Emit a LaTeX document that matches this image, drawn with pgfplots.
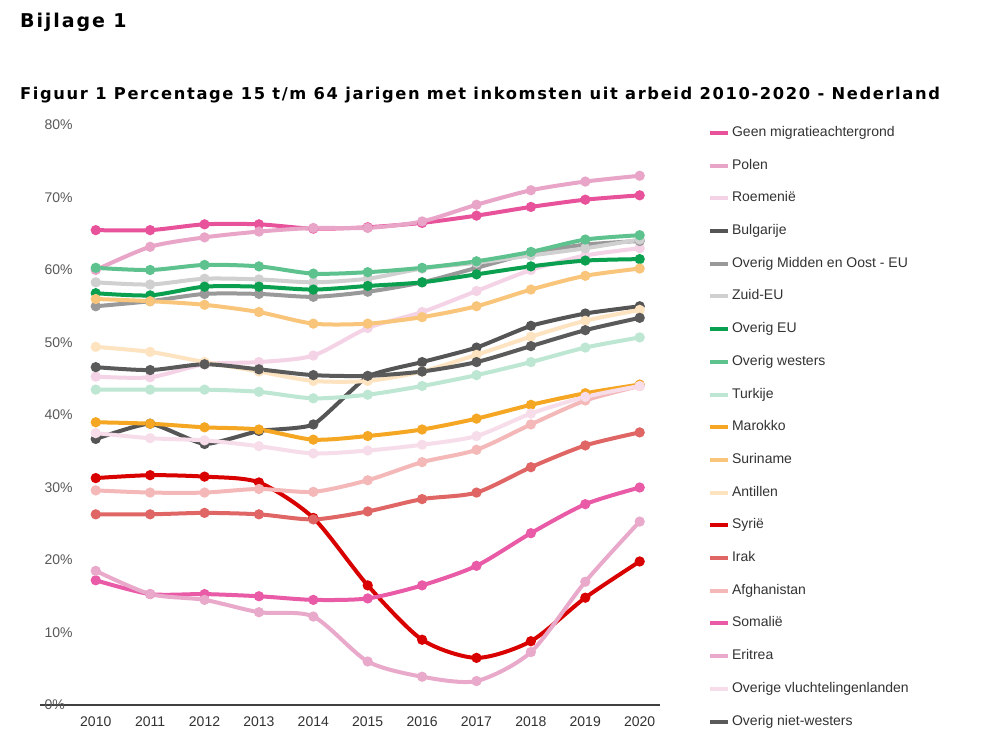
\documentclass[border=0pt]{standalone}
\usepackage{pgfplots}
\pgfplotsset{compat=1.18}
\usepackage{fontspec}
\setmainfont{Liberation Sans}
\newfontfamily\titlefont[LetterSpace=10]{DejaVu Sans}
\definecolor{cGeen}{HTML}{E8529A}
\definecolor{cPolen}{HTML}{E8A5C8}
\definecolor{cRoem}{HTML}{F5D3E6}
\definecolor{cBulg}{HTML}{555555}
\definecolor{cMOE}{HTML}{999999}
\definecolor{cZuid}{HTML}{D0D0D0}
\definecolor{cOEU}{HTML}{0AA04F}
\definecolor{cOW}{HTML}{5EC28E}
\definecolor{cTurk}{HTML}{BDE6D3}
\definecolor{cMar}{HTML}{F5A623}
\definecolor{cSur}{HTML}{F9C57A}
\definecolor{cAnt}{HTML}{FDE3C0}
\definecolor{cSyr}{HTML}{D90000}
\definecolor{cIrak}{HTML}{E06666}
\definecolor{cAfg}{HTML}{F4B8B8}
\definecolor{cSom}{HTML}{E95BA6}
\definecolor{cEri}{HTML}{E9A9CB}
\definecolor{cOVL}{HTML}{F7DDEA}
\definecolor{cONW}{HTML}{5A5A5A}
\begin{document}
\begin{tikzpicture}
\fill[white] (0,0) rectangle (988bp,754bp);
\node[anchor=west,inner sep=0] at (20bp,732bp) {\titlefont\bfseries\fontsize{19bp}{22bp}\selectfont Bijlage 1};
\node[anchor=west,inner sep=0] at (20bp,659bp) {\titlefont\bfseries\fontsize{16.3bp}{19bp}\selectfont Figuur 1 Percentage 15 t/m 64 jarigen met inkomsten uit arbeid 2010-2020 - Nederland};
\draw[line width=2bp,black!75] (40bp,49bp) -- (660bp,49bp);
\begin{axis}[
  at={(74bp,49bp)}, anchor=origin,
  scale only axis, width=582bp, height=580bp,
  xmin=2009.6, xmax=2020.3, ymin=0, ymax=80,
  axis line style={draw=none}, tick style={draw=none},
  xtick={2010,...,2020}, ytick={0,10,...,80},
  xticklabel style={/pgf/number format/1000 sep={},font=\fontsize{14bp}{16bp}\selectfont,text=black!80,yshift=-8bp},
  yticklabel={\pgfmathprintnumber{\tick}\%},
  yticklabel style={anchor=west,font=\fontsize{14bp}{16bp}\selectfont,text=black!65},
  yticklabel shift=33bp,
  /pgf/number format/assume math mode=true,
  clip=false,
  every axis plot/.append style={smooth,tension=0.45,line width=4bp,mark=*,mark size=3bp,mark options={draw=white,line width=0.8bp}},
  legend style={at={(1.084,1.003)},anchor=north west,draw=none,fill=none,
    font=\fontsize{14bp}{16bp}\selectfont,row sep=17.7bp,
    nodes={text height=11bp,text depth=4bp,inner ysep=0bp,text=black!80}},
  legend cell align=left,
  legend image code/.code={\draw[#1,mark=none,line width=4bp] (0bp,0bp) -- (18bp,0bp);},
]
\addplot[cGeen,mark options={fill=cGeen}] coordinates {(2010,65.5)(2011,65.5)(2012,66.3)(2013,66.3)(2014,65.7)(2015,65.9)(2016,66.5)(2017,67.5)(2018,68.7)(2019,69.7)(2020,70.3)};
\addlegendentry{Geen migratieachtergrond}
\addplot[cPolen,mark options={fill=cPolen}] coordinates {(2010,60)(2011,63.2)(2012,64.5)(2013,65.3)(2014,65.8)(2015,65.8)(2016,66.7)(2017,69)(2018,71)(2019,72.2)(2020,73)};
\addlegendentry{Polen}
\addplot[cRoem,mark options={fill=cRoem}] coordinates {(2010,45.3)(2011,45.2)(2012,47)(2013,47.3)(2014,48.2)(2015,52)(2016,54.2)(2017,57.1)(2018,60)(2019,62)(2020,63)};
\addlegendentry{Roemenië}
\addplot[cBulg,mark options={fill=cBulg},tension=0.3] coordinates {(2010,36.7)(2011,38.8)(2012,36)(2013,37.8)(2014,38.7)(2015,45.3)(2016,47.3)(2017,49.3)(2018,52.3)(2019,54)(2020,55)};
\addlegendentry{Bulgarije}
\addplot[cMOE,mark options={fill=cMOE}] coordinates {(2010,55)(2011,55.7)(2012,56.7)(2013,56.7)(2014,56.3)(2015,57)(2016,58.3)(2017,60.3)(2018,62.3)(2019,63.5)(2020,64)};
\addlegendentry{Overig Midden en Oost - EU}
\addplot[cZuid,mark options={fill=cZuid}] coordinates {(2010,58.3)(2011,58)(2012,58.8)(2013,58.7)(2014,58.3)(2015,58.8)(2016,60.2)(2017,61)(2018,62)(2019,63)(2020,64.2)};
\addlegendentry{Zuid-EU}
\addplot[cOEU,mark options={fill=cOEU}] coordinates {(2010,56.8)(2011,56.5)(2012,57.7)(2013,57.7)(2014,57.3)(2015,57.8)(2016,58.3)(2017,59.4)(2018,60.5)(2019,61.3)(2020,61.5)};
\addlegendentry{Overig EU}
\addplot[cOW,mark options={fill=cOW}] coordinates {(2010,60.3)(2011,60)(2012,60.7)(2013,60.5)(2014,59.5)(2015,59.7)(2016,60.3)(2017,61.2)(2018,62.5)(2019,64.2)(2020,64.8)};
\addlegendentry{Overig westers}
\addplot[cTurk,mark options={fill=cTurk}] coordinates {(2010,43.5)(2011,43.5)(2012,43.5)(2013,43.2)(2014,42.3)(2015,42.8)(2016,44)(2017,45.5)(2018,47.3)(2019,49.3)(2020,50.7)};
\addlegendentry{Turkije}
\addplot[cMar,mark options={fill=cMar}] coordinates {(2010,39)(2011,38.8)(2012,38.3)(2013,38)(2014,36.6)(2015,37.1)(2016,38)(2017,39.5)(2018,41.4)(2019,43)(2020,44.2)};
\addlegendentry{Marokko}
\addplot[cSur,mark options={fill=cSur}] coordinates {(2010,56)(2011,55.7)(2012,55.2)(2013,54.2)(2014,52.6)(2015,52.6)(2016,53.5)(2017,55)(2018,57.3)(2019,59.2)(2020,60.2)};
\addlegendentry{Suriname}
\addplot[cAnt,mark options={fill=cAnt}] coordinates {(2010,49.4)(2011,48.7)(2012,47.3)(2013,46)(2014,44.7)(2015,44.7)(2016,46)(2017,48.3)(2018,50.8)(2019,53)(2020,54.5)};
\addlegendentry{Antillen}
\addplot[cSyr,mark options={fill=cSyr}] coordinates {(2010,31.3)(2011,31.7)(2012,31.5)(2013,30.7)(2014,25.8)(2015,16.5)(2016,9)(2017,6.5)(2018,8.8)(2019,14.8)(2020,19.8)};
\addlegendentry{Syrië}
\addplot[cIrak,mark options={fill=cIrak}] coordinates {(2010,26.3)(2011,26.3)(2012,26.5)(2013,26.3)(2014,25.6)(2015,26.7)(2016,28.4)(2017,29.3)(2018,32.8)(2019,35.8)(2020,37.6)};
\addlegendentry{Irak}
\addplot[cAfg,mark options={fill=cAfg}] coordinates {(2010,29.6)(2011,29.3)(2012,29.3)(2013,29.8)(2014,29.4)(2015,31)(2016,33.5)(2017,35.2)(2018,38.7)(2019,42)(2020,44)};
\addlegendentry{Afghanistan}
\addplot[cSom,mark options={fill=cSom}] coordinates {(2010,17.2)(2011,15.3)(2012,15.3)(2013,15)(2014,14.5)(2015,14.7)(2016,16.5)(2017,19.2)(2018,23.7)(2019,27.7)(2020,30)};
\addlegendentry{Somalië}
\addplot[cEri,mark options={fill=cEri}] coordinates {(2010,18.5)(2011,15.3)(2012,14.5)(2013,12.8)(2014,12.2)(2015,6)(2016,3.9)(2017,3.3)(2018,7.3)(2019,17)(2020,25.3)};
\addlegendentry{Eritrea}
\addplot[cOVL,mark options={fill=cOVL}] coordinates {(2010,37.5)(2011,36.8)(2012,36.5)(2013,35.7)(2014,34.7)(2015,35.1)(2016,35.9)(2017,37.1)(2018,40.2)(2019,42.5)(2020,44)};
\addlegendentry{Overige vluchtelingenlanden}
\addplot[cONW,mark options={fill=cONW}] coordinates {(2010,46.6)(2011,46.2)(2012,47)(2013,46.3)(2014,45.5)(2015,45.4)(2016,46)(2017,47.3)(2018,49.5)(2019,51.7)(2020,53.4)};
\addlegendentry{Overig niet-westers}
\end{axis}
\end{tikzpicture}
\end{document}
